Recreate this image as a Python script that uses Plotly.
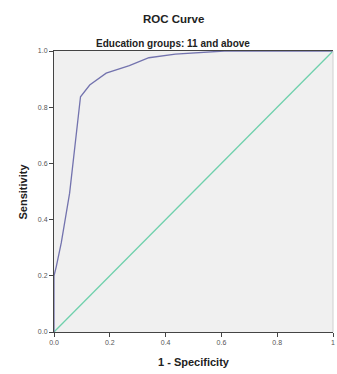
import plotly.graph_objects as go

fpr = [0, 0, 0.008, 0.026, 0.056, 0.095, 0.128, 0.187, 0.27, 0.34, 0.435, 0.54, 0.61, 1.0]
tpr = [0, 0.2, 0.232, 0.317, 0.494, 0.837, 0.879, 0.921, 0.948, 0.976, 0.989, 0.995, 1.0, 1.0]
ref_x = [0, 1]
ref_y = [0, 1]

x_tickvals = [0, 0.2, 0.4, 0.6, 0.8, 1.0]
x_ticktext = ["0.0", "0.2", "0.4", "0.6", "0.8", "1"]
y_tickvals = [0, 0.2, 0.4, 0.6, 0.8, 1.0]
y_ticktext = ["0.0", "0.2", "0.4", "0.6", "0.8", "1.0"]

FONT = "Liberation Sans, Arial, sans-serif"

fig = go.Figure()
fig.add_trace(go.Scatter(x=ref_x, y=ref_y, mode="lines",
                         line=dict(color="#6FD0AC", width=1.3), showlegend=False, hoverinfo="skip"))
fig.add_trace(go.Scatter(x=fpr, y=tpr, mode="lines",
                         line=dict(color="#7373AE", width=1.3), showlegend=False))

fig.update_layout(
    width=337, height=374,
    margin=dict(l=54, r=2, t=51, b=42),
    paper_bgcolor="white", plot_bgcolor="#F0F0F0",
    font=dict(family=FONT, color="#222"),
    xaxis=dict(range=[0, 1], tickvals=x_tickvals, ticktext=x_ticktext,
               showgrid=False, zeroline=False, showline=True, linecolor="#444", linewidth=1,
               mirror=True, ticks="outside", ticklen=4, tickcolor="#444",
               ticklabeloverflow="allow",
               tickfont=dict(size=7, color="#555")),
    yaxis=dict(range=[0, 1], tickvals=y_tickvals, ticktext=y_ticktext,
               showgrid=False, zeroline=False, showline=True, linecolor="#444", linewidth=1,
               ticks="outside", ticklen=4, tickcolor="#444",
               ticklabeloverflow="allow",
               tickfont=dict(size=7, color="#555")),
    shapes=[dict(type="line", xref="paper", yref="paper", x0=1, x1=1, y0=0, y1=1,
                 line=dict(color="#D0D0D0", width=1))],
    annotations=[
        dict(text="<b>ROC Curve</b>", xref="paper", yref="paper", x=0.43, y=1.0,
             yshift=40, showarrow=False, font=dict(size=11.5, color="#222")),
        dict(text="<b>Education groups: 11 and above</b>", xref="paper", yref="paper",
             x=0.425, y=1.0, yshift=15, showarrow=False, font=dict(size=10, color="#222")),
        dict(text="<b>1 - Specificity</b>", xref="paper", yref="paper", x=0.5, y=0,
             yshift=-38, showarrow=False, font=dict(size=11, color="#222")),
        dict(text="<b>Sensitivity</b>", xref="paper", yref="paper", x=0, y=0.5,
             xshift=-40, textangle=-90, showarrow=False, font=dict(size=11, color="#222")),
    ],
)

fig.write_html("out.html", config={"displayModeBar": False},
               post_script="document.body.style.margin='0px';document.body.style.padding='0px';")
